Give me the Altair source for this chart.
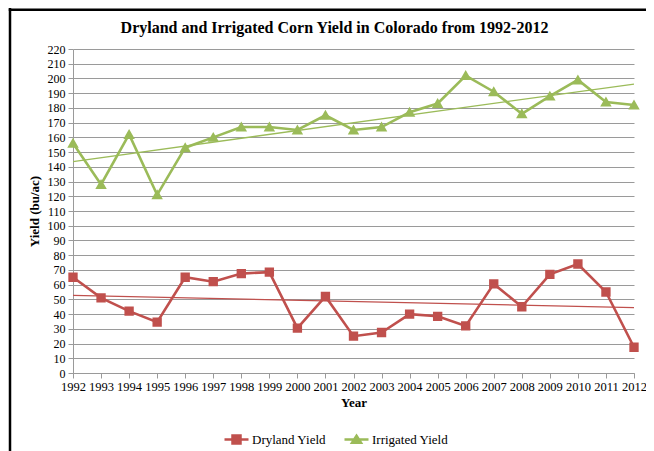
import altair as alt
import pandas as pd

years = list(range(1992, 2013))
dryland = [65, 51, 42, 34.5, 65, 62, 67.5, 68.5, 30.5, 52, 25, 27.5, 40, 38.5, 32, 60.5, 45, 67, 74, 55, 17.5]
irrigated = [156, 128, 162, 121, 153, 160, 167, 167, 165, 175, 165, 167, 177, 183, 202, 191, 176, 188, 199, 184, 182]
series_names = ["Dryland Yield", "Irrigated Yield"]
series_colors = ["#C0504D", "#9BBB59"]
y_ticks = list(range(0, 221, 10))

rows = []
for yr, d, i in zip(years, dryland, irrigated):
    rows.append({"year": yr, "series": series_names[0], "yield": d})
    rows.append({"year": yr, "series": series_names[1], "yield": i})
df = pd.DataFrame(rows)

W, H = 561, 324
SERIF = "Liberation Serif"
GRID = "#9a9a9a"

x_axis = alt.Axis(title="Year", values=years, format="d", grid=False,
                  tickSize=5, labelPadding=2, titlePadding=4,
                  labelFlush=False, labelOverlap=False, labelFontSize=12.5)
y_axis = alt.Axis(title="Yield (bu/ac)", values=y_ticks, grid=True,
                  tickSize=5, labelPadding=3, titlePadding=6)
x_scale = alt.Scale(domain=[1992, 2012], nice=False, zero=False)
y_scale = alt.Scale(domain=[0, 220], nice=False)


def xe():
    return alt.X("year:Q", scale=x_scale, axis=x_axis)


def ye():
    return alt.Y("yield:Q", scale=y_scale, axis=y_axis)


base = alt.Chart(df)

leg_shapes = [
    "M-1.2,0H1.2M-0.4,-0.4H0.4V0.4H-0.4Z",
    "M-1.2,0H1.2M0,-0.38L0.45,0.32H-0.45Z",
]


def leg(value, shape, fillc, strokec, lx):
    return alt.Legend(title=None, orient="none", legendX=lx, legendY=379,
                      direction="horizontal", values=[value], symbolType=shape,
                      symbolSize=400, symbolStrokeWidth=2.5, symbolOpacity=1,
                      symbolFillColor=fillc, symbolStrokeColor=strokec,
                      labelFont=SERIF, labelFontSize=13, labelColor="black",
                      labelOffset=4, padding=0)


color_enc = alt.Color(
    "series:N",
    scale=alt.Scale(domain=series_names, range=series_colors),
    legend=leg(series_names[0], leg_shapes[0], series_colors[0], series_colors[0], 152),
)

lines = base.mark_line(strokeWidth=2.6).encode(x=xe(), y=ye(), color=color_enc)

trend = base.mark_line(strokeWidth=1.3).transform_regression(
    "year", "yield", groupby=["series"]
).encode(x=xe(), y=ye(), color=alt.Color("series:N", legend=None))

# marker scales use the reversed domain order so their legend stays separate
rev_names = series_names[::-1]
rev_colors = series_colors[::-1]
leg_b = leg(series_names[1], leg_shapes[1], series_colors[1], series_colors[1], 272)
fill_enc = alt.Fill("series:N", scale=alt.Scale(domain=rev_names, range=rev_colors), legend=leg_b)
stroke_enc = alt.Stroke("series:N", scale=alt.Scale(domain=rev_names, range=rev_colors), legend=leg_b)

squares = base.transform_filter(alt.datum.series == series_names[0]).mark_point(
    shape="square", filled=True, size=54, opacity=1
).encode(x=xe(), y=ye(), fill=fill_enc, stroke=stroke_enc)

triangles = base.transform_filter(alt.datum.series == series_names[1]).mark_point(
    shape="triangle-up", filled=True, size=64, opacity=1
).encode(x=xe(), y=ye(), fill=fill_enc, stroke=stroke_enc)

frame_df = pd.DataFrame({"k": [0]})
frame_left = alt.Chart(frame_df).mark_rect(color="black").encode(
    x=alt.value(-64.25), x2=alt.value(-61.75), y=alt.value(-41), y2=alt.value(410))
frame_top = alt.Chart(frame_df).mark_rect(color="black").encode(
    x=alt.value(-64.25), x2=alt.value(600), y=alt.value(-40.5), y2=alt.value(-38))

chart = alt.layer(
    lines, trend, squares, triangles, frame_left, frame_top
).properties(
    width=W, height=H,
    title=alt.TitleParams("Dryland and Irrigated Corn Yield in Colorado from 1992-2012",
                          font=SERIF, fontSize=16, fontWeight="bold", color="black",
                          anchor="middle", dx=-19, offset=0, dy=28),
    autosize=alt.AutoSizeParams(type="none"),
    padding={"left": 65, "top": 41, "right": 12, "bottom": 80},
).configure_view(stroke=None).configure_axis(
    labelFont=SERIF, labelFontSize=12, labelColor="black",
    titleFont=SERIF, titleFontSize=13, titleFontWeight="bold", titleColor="black",
    domainColor=GRID, tickColor=GRID, gridColor=GRID, gridWidth=1,
)

chart.save("out.html", embed_options={"renderer": "svg", "actions": False})
